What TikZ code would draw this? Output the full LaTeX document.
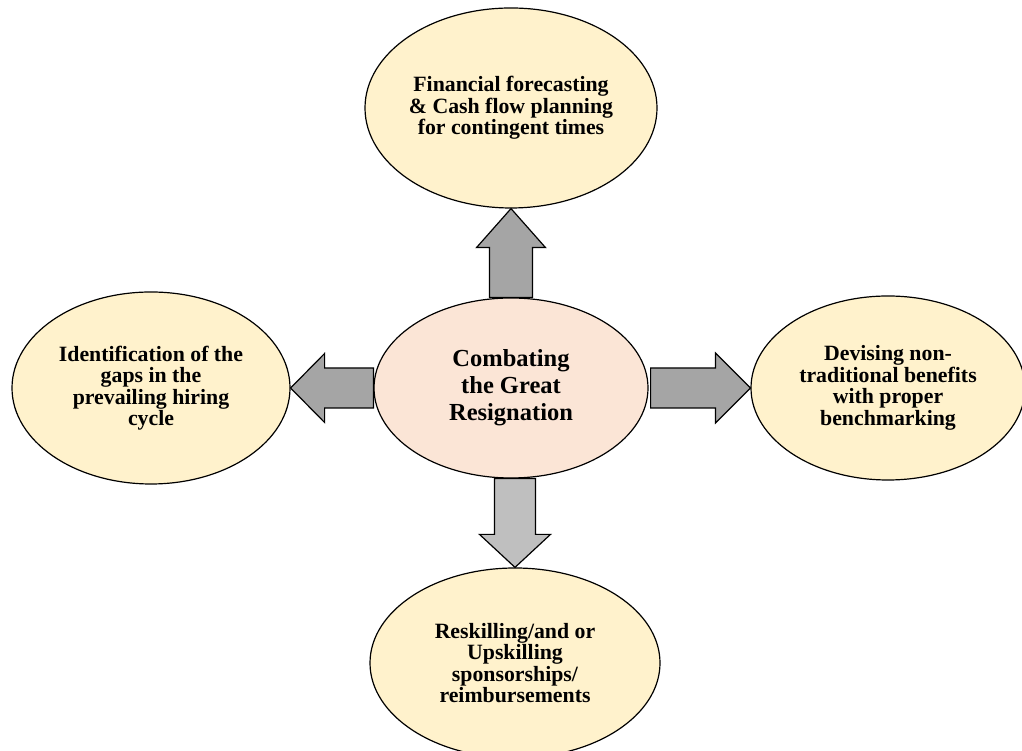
\documentclass[tikz,border=0pt]{standalone}
\usepackage{fontspec}
\setmainfont{Liberation Serif}
\usetikzlibrary{shapes.geometric,calc}
\definecolor{goldfill}{HTML}{FFF2CC}
\definecolor{peachfill}{HTML}{FBE5D6}
\definecolor{arrowgrey}{HTML}{A5A5A5}
\definecolor{arrowlight}{HTML}{BFBFBF}
\begin{document}
\begin{tikzpicture}[x=1pt,y=1pt,
  idea/.style={ellipse,draw=black,line width=1.2pt,fill=goldfill,inner sep=0pt,align=center,
    font=\bfseries\fontsize{21.8}{21.5}\selectfont},
  hub/.style={ellipse,draw=black,line width=1.2pt,fill=peachfill,inner sep=0pt,align=center,
    font=\bfseries\fontsize{24.5}{27}\selectfont},
  blk/.style={draw=black,line width=1.2pt,fill=arrowgrey,line join=miter},
  blklight/.style={blk,fill=arrowlight}]
\useasboundingbox (0,0) rectangle (1022,751);
\node[hub,minimum width=274,minimum height=180] (c) at (511,363) {Combating\\the Great\\Resignation};
\node[idea,minimum width=292,minimum height=200] (t) at (511,643) {Financial forecasting\\\& Cash flow planning\\for contingent times};
\node[idea,minimum width=278,minimum height=192] (l) at (151,363) {Identification of the\\gaps in the\\prevailing hiring\\cycle};
\node[idea,minimum width=274,minimum height=184] (r) at (888,363) {Devising non-\\traditional benefits\\with proper\\benchmarking};
\node[idea,minimum width=290,minimum height=190] (b) at (515,88) {Reskilling/and or\\Upskilling\\sponsorships/\\reimbursements};
% up arrow
\draw[blk] ($(c.north)+(-21.5,0)$) -- ($(t.south)+(-21.5,-39)$) -- ($(t.south)+(-34.5,-39)$)
  -- (t.south) -- ($(t.south)+(34.5,-39)$) -- ($(t.south)+(21.5,-39)$) -- ($(c.north)+(21.5,0)$) -- cycle;
% left arrow
\draw[blk] ($(c.west)+(0,20)$) -- ($(l.east)+(34,20)$) -- ($(l.east)+(34,34.5)$)
  -- (l.east) -- ($(l.east)+(34,-34.5)$) -- ($(l.east)+(34,-20)$) -- ($(c.west)+(0,-20)$) -- cycle;
% right arrow
\draw[blk] ($(c.east)+(2,20)$) -- ($(r.west)+(-35,20)$) -- ($(r.west)+(-35,35)$)
  -- (r.west) -- ($(r.west)+(-35,-35)$) -- ($(r.west)+(-35,-20)$) -- ($(c.east)+(2,-20)$) -- cycle;
% down arrow
\coordinate (cs) at (c.south -| b.north);
\draw[blklight] ($(cs)+(-20.5,0)$) -- ($(b.north)+(-20.5,33)$) -- ($(b.north)+(-35.5,33)$)
  -- (b.north) -- ($(b.north)+(35.5,33)$) -- ($(b.north)+(20.5,33)$) -- ($(cs)+(20.5,0)$) -- cycle;
\end{tikzpicture}
\end{document}
